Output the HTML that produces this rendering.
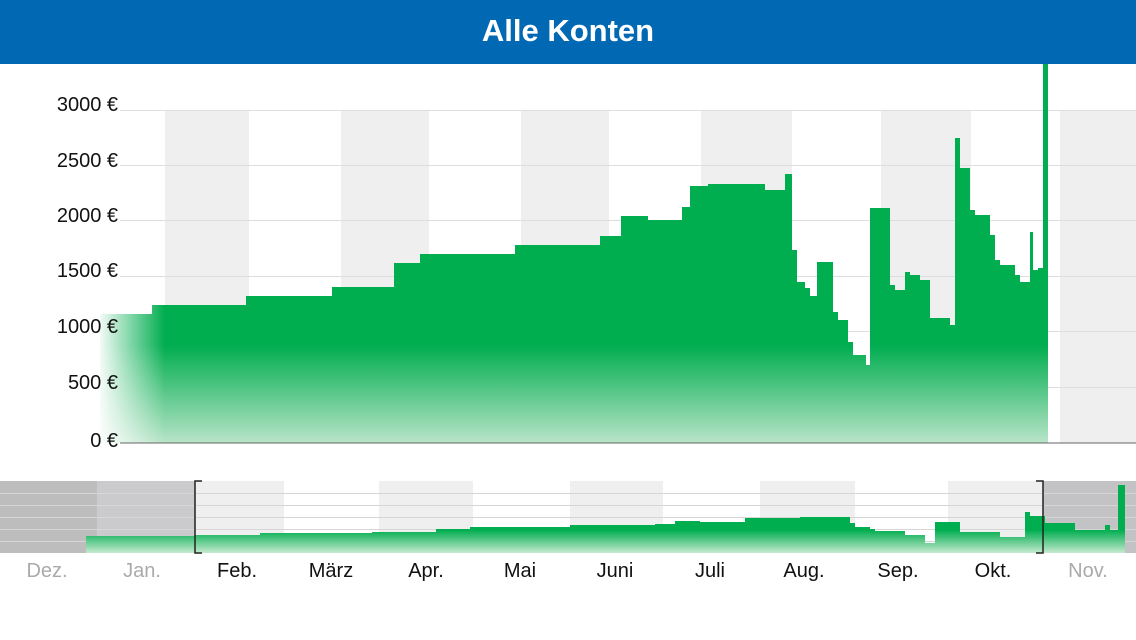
<!DOCTYPE html>
<html><head><meta charset="utf-8"><style>
body{margin:0;width:1136px;height:640px;overflow:hidden;background:#fff;font-family:"Liberation Sans",sans-serif}
.h{position:absolute;left:0;top:0;width:1136px;height:64px;background:#0168b4;color:#fff;font-size:31px;font-weight:bold;text-align:center;line-height:62px}
svg{position:absolute;left:0;top:0}
</style></head><body>
<svg width="1136" height="640">
<defs>
<linearGradient id="g" gradientUnits="userSpaceOnUse" x1="0" y1="345" x2="0" y2="443">
<stop offset="0" stop-color="#00ad4f"/><stop offset="1" stop-color="#b8e4c8"/></linearGradient>
<linearGradient id="lf" x1="100" y1="0" x2="165" y2="0" gradientUnits="userSpaceOnUse">
<stop offset="0" stop-color="#fff" stop-opacity="0.95"/><stop offset="1" stop-color="#fff" stop-opacity="0"/></linearGradient>
<linearGradient id="ng" gradientUnits="userSpaceOnUse" x1="0" y1="530" x2="0" y2="553">
<stop offset="0" stop-color="#00ad4f"/><stop offset="1" stop-color="#c5eacf"/></linearGradient>
</defs>
<g fill="#efefef">
<rect x="165" y="110" width="84" height="333"/><rect x="341" y="110" width="88" height="333"/>
<rect x="521" y="110" width="88" height="333"/><rect x="701" y="110" width="91" height="333"/>
<rect x="881" y="110" width="90" height="333"/><rect x="1060" y="110" width="76" height="333"/>
</g>
<g stroke="#dedede" stroke-width="1">
<line x1="120" x2="1136" y1="110.5" y2="110.5"/><line x1="120" x2="1136" y1="165.5" y2="165.5"/>
<line x1="120" x2="1136" y1="220.5" y2="220.5"/><line x1="120" x2="1136" y1="276.5" y2="276.5"/>
<line x1="120" x2="1136" y1="331.5" y2="331.5"/><line x1="120" x2="1136" y1="387.5" y2="387.5"/>
</g>
<path fill="url(#g)" d="M100,443 V314 H152 V305 H246 V296 H332 V287 H394 V263 H420 V254 H515 V245 H600 V236 H621 V216 H648 V220 H682 V207 H690 V186 H708 V184 H765 V190 H785 V174 H792 V250 H797 V282 H805 V288 H810 V296 H817 V262 H833 V312 H838 V320 H848 V342 H853 V355 H866 V365 H870 V208 H890 V285 H895 V290 H905 V272 H910 V275 H920 V280 H930 V318 H950 V325 H955 V138 H960 V168 H970 V210 H975 V215 H990 V235 H995 V260 H1000 V265 H1015 V275 H1020 V282 H1030 V232 H1033 V270 H1038 V268 H1043 V64 H1048 V443 Z"/>
<rect x="100" y="300" width="65" height="143" fill="url(#lf)"/>
<line x1="120" x2="1136" y1="443" y2="443" stroke="#666" stroke-width="1"/>
<g font-size="20" text-anchor="end" fill="#111">
<text x="118" y="111">3000 €</text><text x="118" y="167">2500 €</text><text x="118" y="222">2000 €</text>
<text x="118" y="277">1500 €</text><text x="118" y="333">1000 €</text><text x="118" y="389">500 €</text><text x="118" y="447">0 €</text>
</g>
<rect x="0" y="481" width="97" height="72" fill="#bdbdbe"/>
<rect x="97" y="481" width="98" height="72" fill="#cbcbcd"/>
<g fill="#efefef"><rect x="195" y="481" width="89" height="72"/><rect x="379" y="481" width="94" height="72"/><rect x="570" y="481" width="93" height="72"/><rect x="760" y="481" width="95" height="72"/><rect x="948" y="481" width="95" height="72"/></g>
<rect x="1043" y="481" width="93" height="72" fill="#c3c3c5"/>
<g stroke="#d6d6d6"><line x1="0" x2="1136" y1="493.5" y2="493.5"/><line x1="0" x2="1136" y1="505.5" y2="505.5"/><line x1="0" x2="1136" y1="517.5" y2="517.5"/><line x1="0" x2="1136" y1="529.5" y2="529.5"/><line x1="0" x2="1136" y1="541.5" y2="541.5"/></g>
<path fill="url(#ng)" d="M86,553 V536 H195 V535 H260 V533 H372 V532 H436 V529 H470 V527 H570 V525 H655 V524 H675 V521 H700 V522 H745 V518 H800 V517 H850 V523 H855 V527 H870 V529 H875 V531 H905 V535 H925 V543 H935 V522 H960 V532 H1000 V537 H1025 V512 H1030 V516 H1045 V523 H1075 V530 H1105 V525 H1110 V530 H1118 V485 H1125 V553 Z"/>
<path d="M202,481 H195 V553 H202 M1036,481 H1043 V553 H1036" fill="none" stroke="#222" stroke-width="1.5"/>
<g font-size="20" text-anchor="middle" fill="#111">
<text x="47" y="577" fill="#aaa">Dez.</text><text x="142" y="577" fill="#aaa">Jan.</text>
<text x="237" y="577">Feb.</text><text x="331" y="577">März</text><text x="426" y="577">Apr.</text>
<text x="520" y="577">Mai</text><text x="615" y="577">Juni</text><text x="710" y="577">Juli</text>
<text x="804" y="577">Aug.</text><text x="898" y="577">Sep.</text><text x="993" y="577">Okt.</text>
<text x="1088" y="577" fill="#aaa">Nov.</text>
</g>
</svg>
<div class="h">Alle Konten</div>
</body></html>
